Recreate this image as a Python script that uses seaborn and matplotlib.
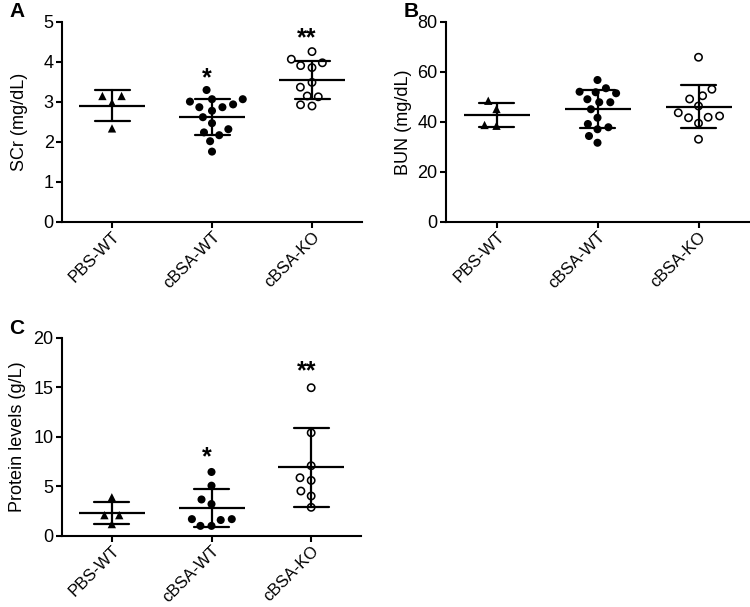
import matplotlib
matplotlib.use("Agg")
import matplotlib.pyplot as plt
from matplotlib.path import Path
import seaborn as sns
import pandas as pd
import numpy as np

# groups on the x axis
groups = ["PBS-WT", "cBSA-WT", "cBSA-KO"]

# panel A: serum creatinine (mg/dL)
scr_pbs_wt = [3.15, 3.15, 2.98, 2.34]
scr_cbsa_wt = [3.30, 3.07, 3.01, 3.07, 2.94, 2.87, 2.78, 2.87, 2.62,
               2.47, 2.24, 2.17, 2.32, 2.02, 1.76]
scr_cbsa_ko = [4.26, 3.98, 3.86, 3.91, 4.07, 3.49, 3.37, 3.13, 3.15, 2.90, 2.93]

# panel B: BUN (mg/dL)
bun_pbs_wt = [48.5, 45.2, 38.5, 38.8]
bun_cbsa_wt = [56.8, 53.5, 51.9, 51.5, 52.1, 47.9, 47.9, 49.1, 45.1,
               41.7, 37.9, 37.1, 39.2, 34.4, 31.7]
bun_cbsa_ko = [65.9, 53.1, 50.5, 49.2, 46.4, 43.7, 42.4, 41.7, 39.5, 41.9, 33.1]

# panel C: urine protein (g/L)
prot_pbs_wt = [3.9, 2.1, 2.1, 1.2]
prot_cbsa_wt = [6.45, 5.07, 3.68, 3.22, 1.70, 1.61, 1.02, 1.02, 1.70]
prot_cbsa_ko = [14.94, 10.4, 7.08, 5.87, 5.6, 4.53, 4.03, 2.89]

# significance marks (text, height) per group
sig_a = ["", "*", "**"]
sig_a_y = [None, 3.6, 4.58]
sig_c = ["", "*", "**"]
sig_c_y = [None, 7.95, 16.6]

sns.set_style("ticks")
plt.rcParams["font.family"] = ["Liberation Sans", "DejaVu Sans"]
plt.rcParams["axes.linewidth"] = 1.5
plt.rcParams["axes.labelcolor"] = "black"
plt.rcParams["text.color"] = "black"
plt.rcParams["xtick.color"] = "black"
plt.rcParams["ytick.color"] = "black"

# open circle marker as a filled ring, so the edge width can be used as spacing
t = np.linspace(0, 2 * np.pi, 65)
outer = np.column_stack([np.cos(t), np.sin(t)])
ring = Path.make_compound_path(Path(outer, closed=True),
                               Path(0.64 * outer[::-1], closed=True))

# marker style per group: marker, visible size, extra gap
styles = {
    "PBS-WT": dict(marker="^", size=6.0, linewidth=2.2),
    "cBSA-WT": dict(marker="o", size=5.8, linewidth=1.8),
    "cBSA-KO": dict(marker=ring, size=6.4, linewidth=1.5),
}


def make_df(a, b, c):
    return pd.DataFrame({
        "group": [groups[0]] * len(a) + [groups[1]] * len(b) + [groups[2]] * len(c),
        "value": a + b + c,
    })


def panel(ax, df, ylim, yticks, ylabel, label_off, sig=None, sig_y=None):
    for g in groups:
        sns.swarmplot(data=df[df["group"] == g], x="group", y="value",
                      order=groups, color="black", edgecolor="none",
                      ax=ax, **styles[g])
    sns.pointplot(data=df, x="group", y="value", order=groups,
                  errorbar="sd", capsize=0.35, color="black",
                  markers="_", markersize=48, markeredgewidth=1.6,
                  linestyle="none", err_kws={"linewidth": 1.6}, ax=ax)
    ax.set_xlim(-0.5, 2.5)
    ax.set_ylim(*ylim)
    ax.set_yticks(yticks)
    ax.set_xlabel("")
    ax.set_ylabel(ylabel, fontsize=13)
    ax.yaxis.set_label_coords(label_off, 0.5)
    ax.tick_params(axis="y", labelsize=13, width=1.5, length=4, pad=2)
    ax.tick_params(axis="x", labelsize=12, width=1.5, length=4, pad=1)
    ax.set_xticks(range(len(groups)))
    ax.set_xticklabels(groups, rotation=45, ha="right", rotation_mode="anchor")
    sns.despine(ax=ax)
    for s in ["left", "bottom"]:
        ax.spines[s].set_color("black")
    if sig:
        for i, (txt, yv) in enumerate(zip(sig, sig_y)):
            if txt:
                ax.text(i - 0.05, yv, txt, ha="center", va="center",
                        fontsize=18, fontweight="bold")


fig = plt.figure(figsize=(7.5, 6.07), dpi=100)
W, H = 750, 607
ax_a = fig.add_axes([62 / W, (H - 222) / H, 300 / W, 200 / H])
ax_b = fig.add_axes([446 / W, (H - 222) / H, 303 / W, 200 / H])
ax_c = fig.add_axes([62 / W, (H - 536) / H, 299 / W, 198.5 / H])

panel(ax_a, make_df(scr_pbs_wt, scr_cbsa_wt, scr_cbsa_ko), (0, 5), range(0, 6),
      "SCr (mg/dL)", -34 / 300, sig_a, sig_a_y)
panel(ax_b, make_df(bun_pbs_wt, bun_cbsa_wt, bun_cbsa_ko), (0, 80), range(0, 81, 20),
      "BUN (mg/dL)", -34 / 303)
panel(ax_c, make_df(prot_pbs_wt, prot_cbsa_wt, prot_cbsa_ko), (0, 20), range(0, 21, 5),
      "Protein levels (g/L)", -36 / 299, sig_c, sig_c_y)

fig.text(9 / W, 1 - 2 / H, "A", fontsize=15, fontweight="bold", va="top")
fig.text(404 / W, 1 - 2 / H, "B", fontsize=15, fontweight="bold", va="top")
fig.text(9 / W, 1 - 319 / H, "C", fontsize=15, fontweight="bold", va="top")

fig.savefig("out.png", dpi=100)
